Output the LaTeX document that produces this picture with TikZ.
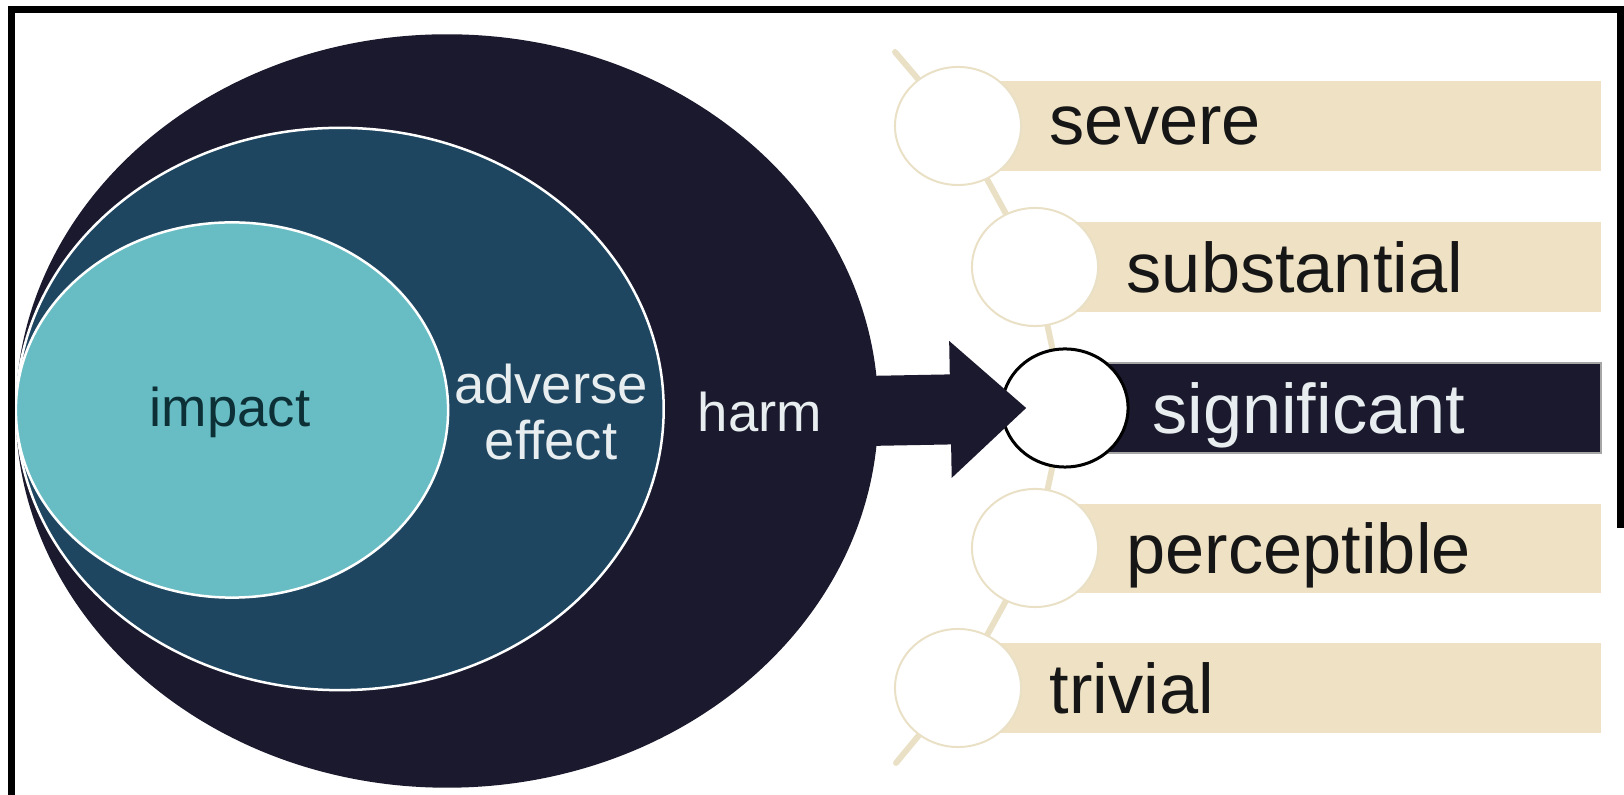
\documentclass[tikz,border=0pt]{standalone}
\usepackage{fontspec}
\setmainfont{Liberation Sans}
\usetikzlibrary{positioning,shapes.geometric,arrows.meta,calc}

\definecolor{harmblue}{RGB}{27,25,45}
\definecolor{adverseblue}{RGB}{30,70,96}
\definecolor{impactcyan}{RGB}{104,188,196}
\definecolor{impactink}{RGB}{12,48,54}
\definecolor{paleink}{RGB}{232,238,240}
\definecolor{wordink}{RGB}{22,22,22}
\definecolor{bartan}{RGB}{238,225,196}
\definecolor{threadtan}{RGB}{233,224,198}

\begin{document}
\begin{tikzpicture}[x=0.01cm, y=-0.01cm,
        zone/.style={ellipse, inner sep=0pt, outer sep=0pt},
        inword/.style={inner sep=0pt, align=center, font=\fontsize{15.5}{16}\selectfont},
        dot/.style={ellipse, fill=white, draw=threadtan, line width=0.2mm, minimum width=1.26cm, minimum height=1.18cm, inner sep=0pt},
        word/.style={inner sep=0pt, text depth=0pt, text=wordink, font=\fontsize{20}{21}\selectfont},
        thread/.style={draw=threadtan, line width=0.6mm, line cap=round},
        bigarrow/.style={harmblue, line width=7mm, -{Triangle[length=7.6mm, width=13.2mm]}}]
        \useasboundingbox (0,0) rectangle (1624,795);

        % nested zones
        \node[zone, fill=harmblue, minimum width=8.62cm, minimum height=7.53cm] (harmzone) at (447,411) {};
        \node[zone, fill=adverseblue, draw=white, line width=0.25mm, minimum width=6.47cm, minimum height=5.62cm] (adversezone) at (340,409) {};
        \node[zone, fill=impactcyan, draw=white, line width=0.25mm, minimum width=4.32cm, minimum height=3.75cm] (impactzone) at (232,410) {};

        \node[inword, text=impactink] (impact) at (230,412) {impact};
        \node[inword, text=paleink] (adverse) at (551,412) {adverse\\effect};
        \node[inword, text=paleink] (harm) at (760,412) {harm};

        % scale on the right
        \coordinate (p1) at (958,126);
        \coordinate (p2) at (1035,267);
        \coordinate (p3) at (1065,408);
        \coordinate (p4) at (1035,548);
        \coordinate (p5) at (958,688);
        \coordinate (threadtop) at (895,52);
        \coordinate (threadend) at (896,763);
        \draw[thread] (threadtop) -- (p1) -- (p2) -- (p3) -- (p4) -- (p5) -- (threadend);

        \fill[bartan] (958,81) rectangle (1601,171);
        \fill[bartan] (1035,222) rectangle (1601,312);
        \filldraw[fill=harmblue, draw=gray!70, line width=0.15mm] (1065,363) rectangle (1601,453);
        \fill[bartan] (1035,504) rectangle (1601,593);
        \fill[bartan] (958,643) rectangle (1601,733);

        \node[dot] (severedot) at (p1) {};
        \node[dot] (substdot) at (p2) {};
        \node[dot, draw=black, line width=0.3mm] (signifdot) at (p3) {};
        \node[dot] (percdot) at (p4) {};
        \node[dot] (trivdot) at (p5) {};

        \node[word, right=2.7mm of severedot] (severe) {severe};
        \node[word, right=2.7mm of substdot] (subst) {substantial};
        \node[word, text=paleink, right=2.2mm of signifdot] (signif) {significant};
        \node[word, right=2.7mm of percdot] (perc) {perceptible};
        \node[word, right=2.7mm of trivdot] (triv) {trivial};

        % arrow from harm into the scale
        \coordinate (arrowtip) at ($(signifdot.west)+(26,0)$);
        \draw[bigarrow] ($(harmzone.east)+(-12,0)$) -- (arrowtip);

        \draw[line width=0.65mm] (11.5,795) -- (11.5,9.5) -- (1620.5,9.5) -- (1620.5,528);
    \end{tikzpicture}
\end{document}
